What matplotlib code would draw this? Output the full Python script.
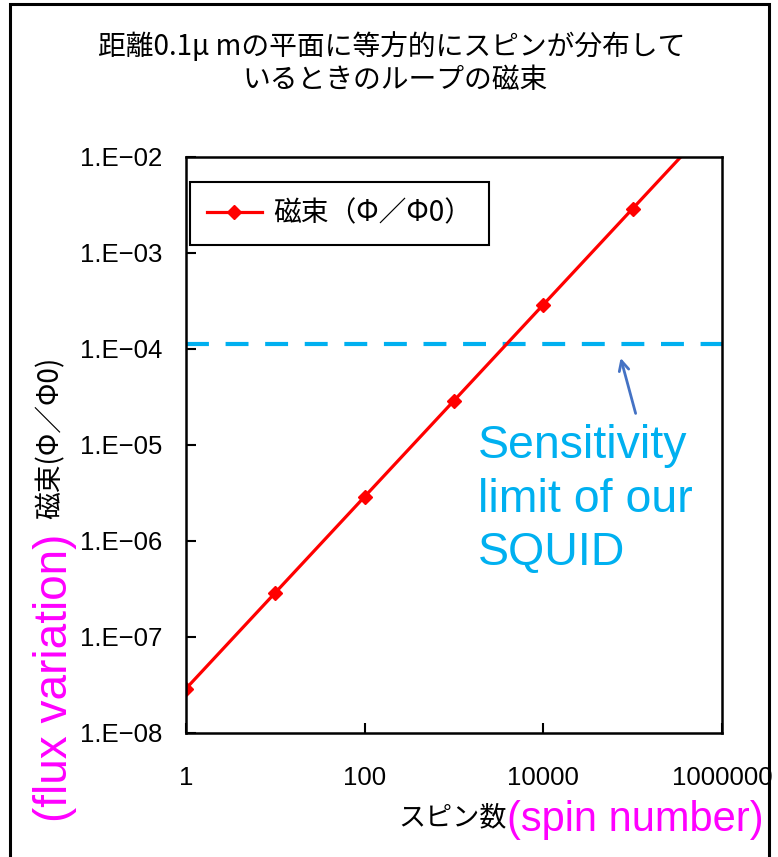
import numpy as np
import matplotlib
matplotlib.use("Agg")
from matplotlib import pyplot as plt
from matplotlib.patches import Rectangle

plt.rcParams['font.family'] = ['Liberation Sans', 'Noto Sans CJK JP', 'DejaVu Sans']
JP = ['Noto Sans CJK JP', 'DejaVu Sans']

# spin count vs loop flux
spins = [1, 10, 100, 1000, 10000, 100000, 1000000]
flux = [2.9e-8, 2.9e-7, 2.9e-6, 2.9e-5, 2.9e-4, 2.9e-3, 2.9e-2]
limit = 1.12e-4

x_ticks = [1, 100, 10000, 1000000]
x_ticklabels = ['1', '100', '10000', '1000000']
y_ticks = [1e-8, 1e-7, 1e-6, 1e-5, 1e-4, 1e-3, 1e-2]
y_ticklabels = ['1.E\u221208', '1.E\u221207', '1.E\u221206', '1.E\u221205',
                '1.E\u221204', '1.E\u221203', '1.E\u221202']

W, H = 778, 857
fig = plt.figure(figsize=(W / 100, H / 100), dpi=100)

def fx(px):
    return px / W

def fy(py):
    return 1 - py / H

ax = fig.add_axes([fx(186), fy(733), fx(722) - fx(186), fy(157) - fy(733)])
ax.set_xscale('log')
ax.set_yscale('log')
ax.set_xlim(1, 1e6)
ax.set_ylim(1e-8, 1e-2)

ax.plot(spins, [limit] * len(spins), color='#00B0F0', lw=3, dashes=(5.5, 4))
ax.plot(spins, flux, color='#FF0000', lw=2.3, marker='D', ms=7,
        label='磁束（Φ／Φ0）')

ax.set_xticks(x_ticks)
ax.set_xticklabels(x_ticklabels)
ax.set_yticks(y_ticks)
ax.set_yticklabels(y_ticklabels)
ax.minorticks_off()
ax.tick_params(direction='in', length=7, width=1.5, labelsize=18.5)
ax.tick_params(axis='y', pad=17)
ax.tick_params(axis='x', pad=24)
for s in ax.spines.values():
    s.set_linewidth(1.8)

leg = ax.legend(loc='upper left', bbox_to_anchor=(0.0075, 0.957), borderaxespad=0,
                fancybox=False, edgecolor='black', framealpha=1, fontsize=20,
                handlelength=2.0, borderpad=0.6, handletextpad=0.4,
                prop={'family': JP, 'size': 20})
leg.get_frame().set_linewidth(1.5)

# arrow pointing at the limit line
ax.annotate('', xy=(7.2e4, 8.6e-5), xytext=(1.1e5, 2.0e-5),
            arrowprops=dict(arrowstyle='->,head_length=0.7,head_width=0.35',
                            color='#4472C4', lw=2))

fig.text(fx(392), fy(47), '距離0.1μ mの平面に等方的にスピンが分布して',
         ha='center', va='center', fontsize=20, family=JP)
fig.text(fx(395), fy(80), 'いるときのループの磁束',
         ha='center', va='center', fontsize=20, family=JP)

fig.text(fx(478), fy(424), 'Sensitivity\nlimit of our\nSQUID', ha='left', va='top',
         fontsize=33.5, color='#00B0F0', linespacing=1.28)

fig.text(fx(51), fy(438), '磁束(Φ／Φ0)', rotation=90, ha='center', va='center',
         fontsize=20, family=JP)
fig.text(fx(55), fy(678), '(flux variation)', rotation=90, ha='center', va='center',
         fontsize=33, color='#FF00FF')

fig.text(fx(507), fy(818), 'スピン数', ha='right', va='center', fontsize=19.5,
         family=JP)
fig.text(fx(507), fy(820), '(spin number)', ha='left', va='center', fontsize=30,
         color='#FF00FF')

# outer frame around the whole chart
fig.add_artist(Rectangle((fx(10), -0.05), fx(769) - fx(10), fy(4) + 0.05,
                         transform=fig.transFigure, fill=False, lw=2.2,
                         edgecolor='black'))

fig.savefig('out.png', dpi=100)
